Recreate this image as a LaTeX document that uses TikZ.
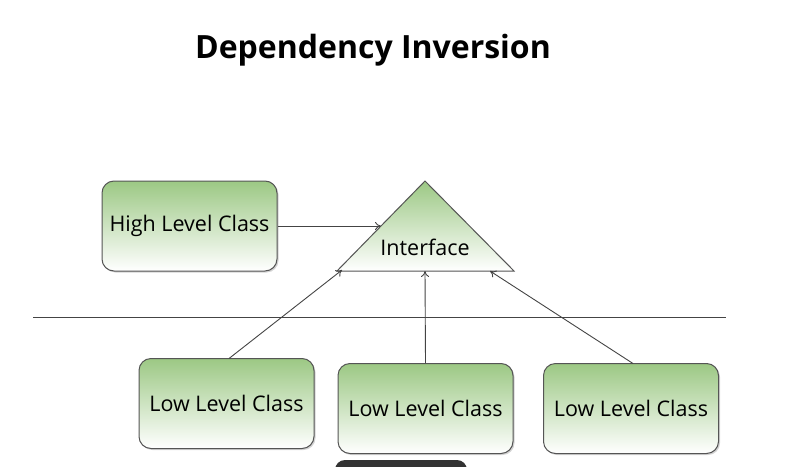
\documentclass[tikz,border=0pt]{standalone}
\usepackage{fontspec}
\setmainfont{Open Sans}
\usetikzlibrary{arrows.meta,shadows}
\definecolor{boxgreen}{HTML}{9CC884}
\definecolor{edgegray}{HTML}{555555}
\definecolor{linegray}{HTML}{444444}
\tikzset{
  labelfont/.style={font=\fontsize{21.5}{24}\selectfont},
  classbox/.style={draw=edgegray, line width=1pt, rounded corners=12pt,
    top color=boxgreen, bottom color=white, minimum width=175pt, minimum height=90pt,
    inner sep=0pt, labelfont,
    drop shadow={shadow xshift=1.5pt, shadow yshift=-1.5pt, opacity=0.35}},
  dep/.style={draw=linegray, line width=0.9pt, -{To[length=6pt,width=8pt]}},
}
\begin{document}
\begin{tikzpicture}[x=1pt,y=-1pt]
\useasboundingbox (0,0) rectangle (800,466);
\node[font=\fontsize{32}{36}\selectfont\bfseries] (title) at (373,50) {Dependency Inversion};
% triangle
\coordinate (apex) at (425,181);
\coordinate (bl) at (337,271);
\coordinate (br) at (514,271);
\shade[top color=boxgreen, bottom color=white, draw=edgegray, line width=1pt]
  (apex) -- (bl) -- (br) -- cycle;
\node[labelfont] (iface) at (425,247) {Interface};
\coordinate (tin) at (381,226);
\coordinate (t1) at (342,270);
\coordinate (t2) at (425,271);
\coordinate (t3) at (490,271);
% boxes
\node[classbox] (high) at (189.5,226) {High Level Class};
\node[classbox] (low1) at (226.5,403.5) {Low Level Class};
\node[classbox] (low2) at (425.5,408.5) {Low Level Class};
\node[classbox] (low3) at (631,408.5) {Low Level Class};
% separator
\coordinate (sepL) at (33,317);
\coordinate (sepR) at (726,317);
\draw[linegray, line width=0.9pt] (sepL) -- (sepR);
% dependencies
\draw[dep] (high.east) -- (tin);
\draw[dep] (229,358.5) -- (t1);
\draw[dep] (low2.north) -- (t2);
\draw[dep] (633,363.5) -- (t3);
% dark overlay at bottom
\fill[black!80, rounded corners=10pt] (335,460) rectangle (467,480);
\end{tikzpicture}
\end{document}
